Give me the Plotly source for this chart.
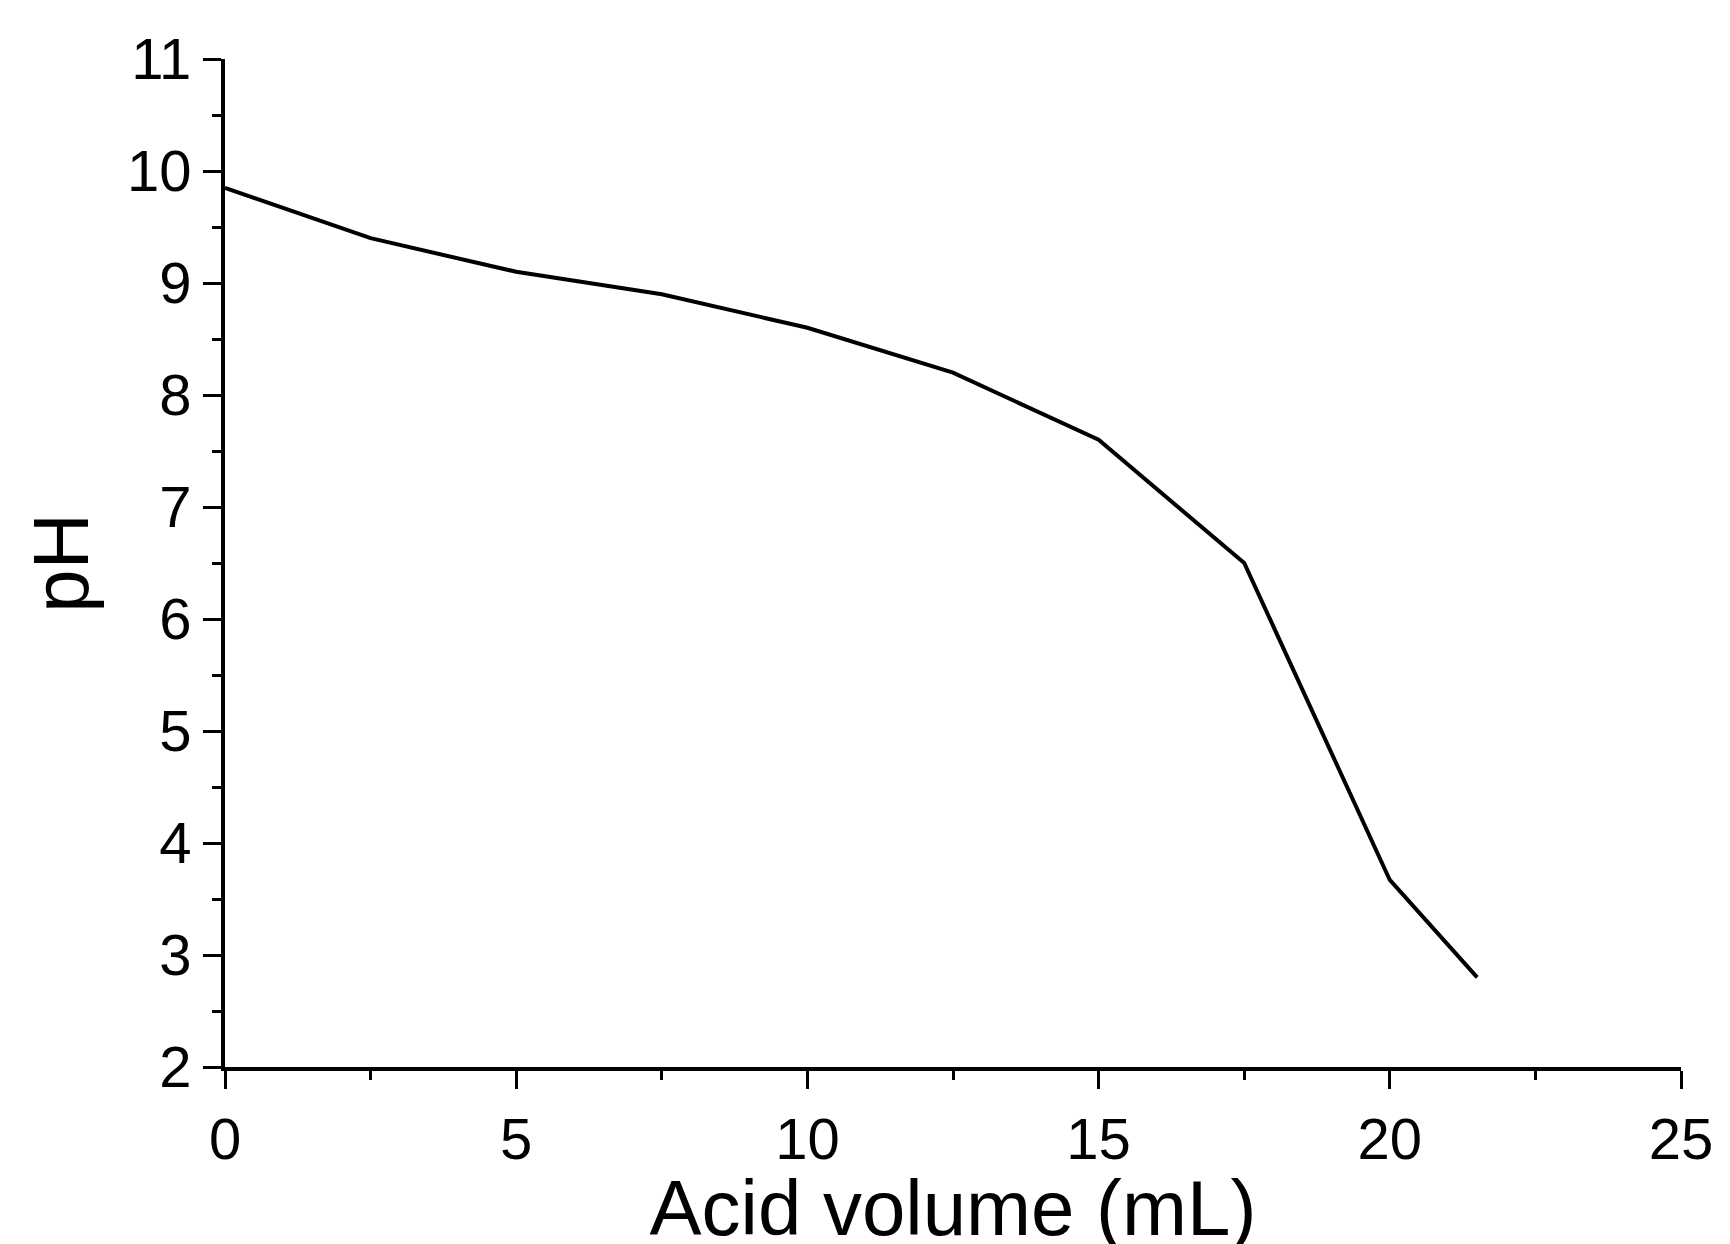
import plotly.graph_objects as go

volume = [0, 2.5, 5, 7.5, 10, 12.5, 15, 17.5, 20, 21.5]
ph = [9.85, 9.4, 9.1, 8.9, 8.6, 8.2, 7.6, 6.5, 3.67, 2.8]

fig = go.Figure(go.Scatter(x=volume, y=ph, mode="lines", line=dict(color="black", width=4)))
ax = dict(showline=True, linecolor="black", linewidth=4, ticks="outside", ticklen=18, tickwidth=3,
          tickcolor="black", showgrid=False, zeroline=False, mirror=False,
          tickfont=dict(family="Liberation Sans, Arial", size=58, color="black"),
          minor=dict(ticks="outside", ticklen=9, tickwidth=3, tickcolor="black"))
fig.update_xaxes(range=[0, 25], dtick=5, minor_dtick=2.5, **ax,
                 title=dict(text="Acid volume (mL)", font=dict(family="Liberation Sans, Arial", size=78, color="black"), standoff=4))
fig.update_yaxes(range=[2, 11], dtick=1, minor_dtick=0.5, **ax,
                 title=dict(text="pH", font=dict(family="Liberation Sans, Arial", size=78, color="black"), standoff=14))
fig.update_layout(width=1730, height=1244, plot_bgcolor="white", paper_bgcolor="white",
                  margin=dict(l=217, r=57, t=51, b=185), showlegend=False)
fig.write_html("out.html")
